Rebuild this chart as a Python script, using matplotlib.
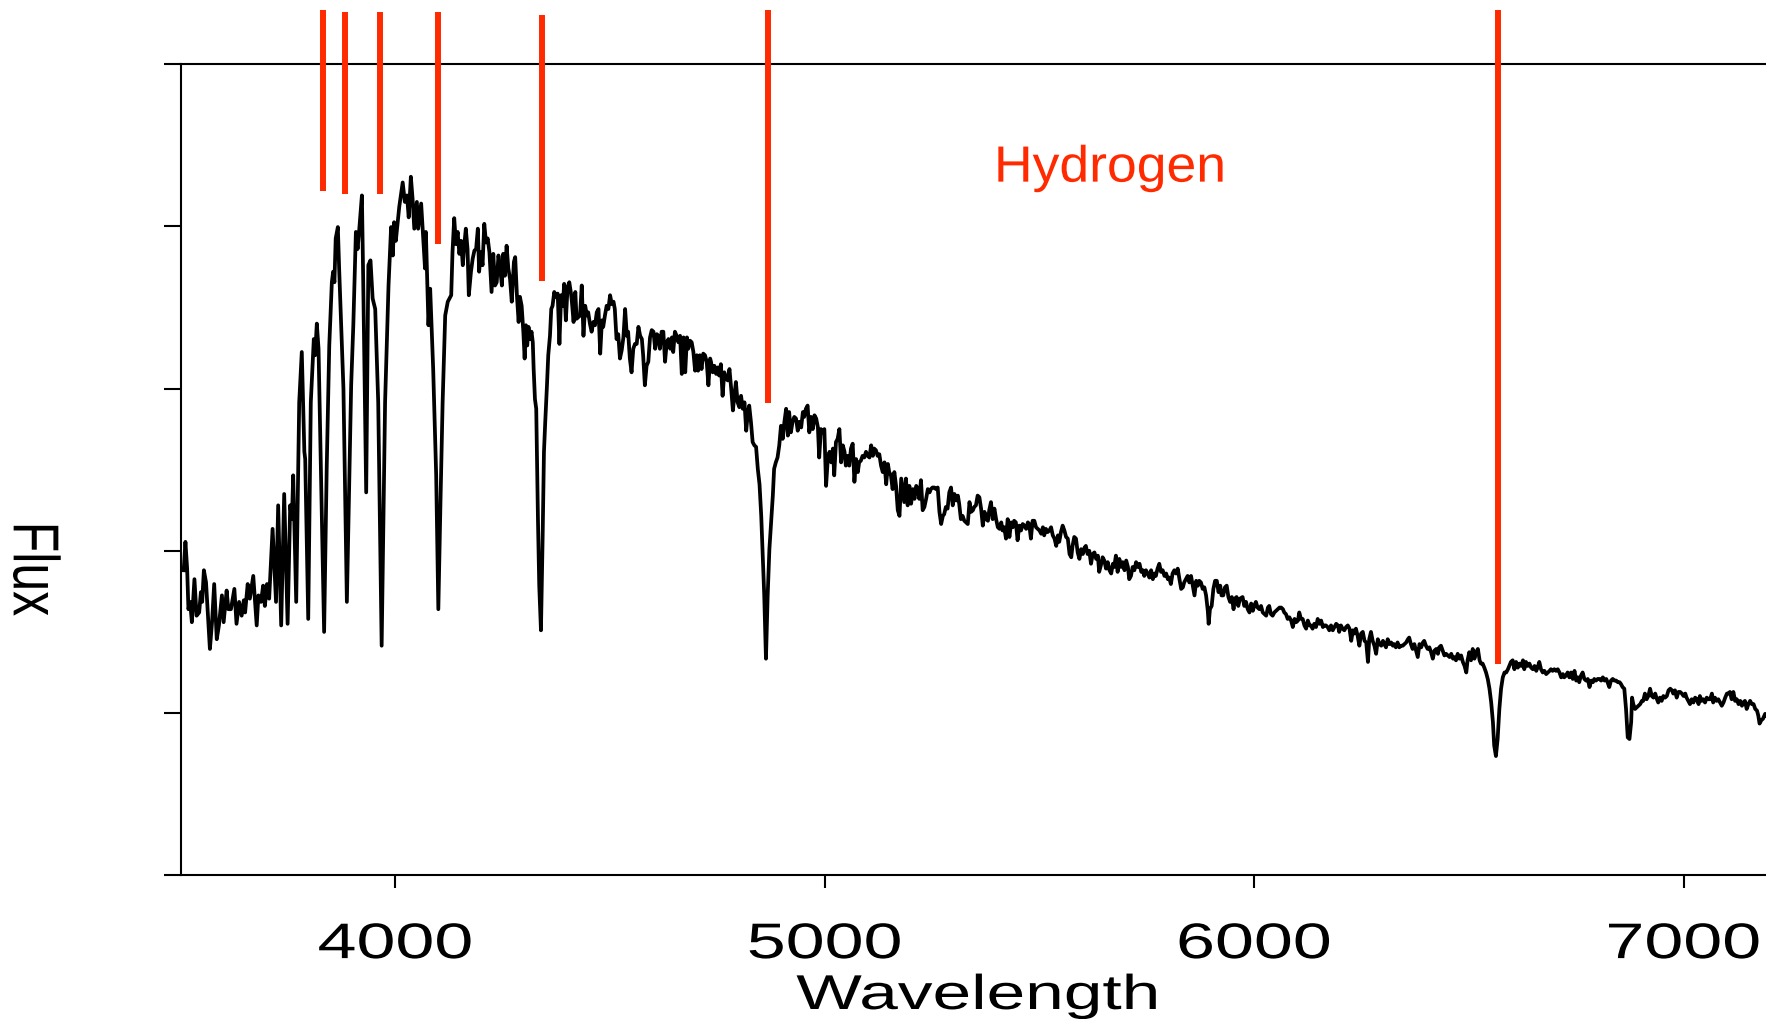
import numpy as np
import matplotlib
matplotlib.use("Agg")
import matplotlib.pyplot as plt
from matplotlib.patheffects import AbstractPathEffect
from matplotlib.transforms import Affine2D

# ---------------------------------------------------------------------------
# Stellar spectrum (wavelength in Angstrom, flux in arbitrary units)
# ---------------------------------------------------------------------------
wl_uv = [3507, 3511, 3515, 3518, 3522, 3526, 3532, 3537, 3543, 3547,
         3550, 3554, 3559, 3563, 3568, 3573, 3578, 3584, 3589, 3596,
         3600, 3607, 3611, 3617, 3625, 3630, 3636, 3642, 3647, 3650,
         3656, 3661, 3669, 3677, 3681, 3687, 3692, 3696, 3701, 3706,
         3714, 3722, 3727, 3734, 3741, 3749, 3755, 3759, 3762, 3769,
         3776, 3782, 3788, 3790, 3797, 3803, 3810, 3813, 3817, 3821,
         3828, 3834, 3840, 3846, 3852, 3855, 3858, 3861, 3866, 3869,
         3879, 3887, 3897, 3902, 3908, 3912, 3916, 3922, 3925, 3932,
         3937, 3942, 3947, 3953, 3960, 3968, 3976, 3984, 3990, 3994,
         3997, 4001, 4009, 4017, 4022, 4027, 4031, 4036, 4040, 4044,
         4050, 4053, 4060, 4064, 4069, 4071, 4077, 4081, 4088, 4095,
         4100, 4105, 4110, 4116]
fx_uv = [37.6, 41.1, 37.8, 32.8, 33.7, 31.2, 36.5, 32.0, 32.4, 34.9,
         33.7, 37.6, 36.1, 32.4, 27.9, 31.2, 35.9, 29.1, 30.8, 34.5,
         31.2, 35.1, 32.8, 32.8, 35.3, 31.0, 33.7, 32.0, 33.9, 32.4,
         35.9, 34.1, 36.9, 30.8, 34.5, 33.7, 35.7, 33.2, 35.9, 34.1,
         42.7, 33.7, 45.6, 30.8, 47.0, 31.0, 45.6, 43.9, 49.3, 33.7,
         58.3, 64.5, 52.2, 51.3, 31.6, 58.3, 66.1, 64.1, 68.0, 64.9,
         46.0, 30.0, 50.1, 65.3, 73.1, 74.4, 73.1, 78.5, 79.9, 74.8,
         60.0, 33.7, 60.4, 67.8, 79.3, 77.2, 79.7, 83.8, 73.5, 47.2,
         75.2, 75.8, 71.1, 69.8, 58.3, 28.3, 58.3, 72.7, 79.9, 76.4,
         80.5, 78.2, 82.4, 85.4, 83.0, 83.8, 81.1, 86.1, 83.4, 79.7,
         83.0, 79.7, 82.8, 79.3, 74.8, 79.3, 67.8, 72.3, 62.4, 49.3,
         32.8, 46.0, 58.3, 69.0]

wl_blue = [4122, 4126, 4130, 4133, 4137, 4141, 4145, 4149, 4153, 4157,
           4161, 4164, 4168, 4171, 4176, 4180, 4184, 4188, 4192, 4195,
           4199, 4203, 4207, 4211, 4215, 4219, 4224, 4228, 4232, 4236,
           4240, 4244, 4248, 4251, 4255, 4259, 4263, 4267, 4271, 4276,
           4279, 4283, 4287, 4290, 4294, 4298, 4301, 4304, 4307, 4310,
           4314, 4317, 4320, 4322, 4325, 4328, 4332, 4335, 4339, 4343,
           4346, 4349, 4353, 4356, 4360, 4363, 4366, 4370, 4374, 4378,
           4382, 4386, 4390, 4393, 4397, 4401, 4405, 4409, 4411, 4415,
           4419, 4422, 4426, 4430, 4434, 4438, 4442, 4446, 4449, 4453,
           4457, 4461, 4465, 4469, 4473, 4477, 4481, 4484, 4488, 4492,
           4496, 4500, 4504, 4508, 4511, 4515, 4519, 4523, 4527, 4531,
           4535, 4539, 4542, 4546, 4550, 4554, 4558, 4562, 4566, 4570,
           4574, 4577, 4581, 4585, 4589, 4593, 4597, 4601, 4605, 4609,
           4612, 4616, 4620, 4624, 4628, 4632, 4636, 4640, 4644, 4647,
           4651, 4655, 4659, 4663, 4667, 4671, 4675, 4679, 4682, 4686,
           4690, 4694, 4698, 4702, 4705, 4709, 4713, 4717, 4721, 4725,
           4729, 4733]
fx_blue = [70.7, 71.1, 71.5, 76.8, 81.0, 77.8, 79.3, 76.6, 78.2, 75.2,
           78.0, 79.7, 77.2, 71.5, 74.4, 76.0, 77.0, 77.2, 79.7, 74.4,
           76.8, 75.2, 80.3, 78.0, 78.5, 76.8, 71.9, 76.6, 72.7, 73.1,
           76.4, 74.8, 72.7, 76.6, 73.9, 77.6, 74.8, 73.5, 70.7, 75.6,
           76.2, 71.5, 68.2, 71.3, 70.2, 67.0, 63.7, 67.8, 65.3, 67.6,
           66.1, 67.0, 65.7, 62.4, 58.7, 57.5, 43.9, 35.7, 30.2, 41.9,
           52.2, 55.9, 60.4, 64.1, 66.5, 69.8, 70.2, 71.9, 71.3, 71.7,
           65.5, 71.5, 70.2, 72.9, 68.4, 72.5, 73.1, 71.7, 70.7, 68.2,
           71.9, 68.6, 68.8, 69.0, 72.7, 66.5, 70.2, 69.0, 69.4, 68.0,
           67.0, 68.2, 67.8, 69.4, 69.8, 64.3, 68.4, 67.6, 69.0, 70.2,
           69.8, 71.5, 70.4, 70.7, 69.8, 66.1, 66.7, 63.7, 64.7, 66.3,
           69.8, 66.5, 67.0, 63.7, 62.0, 64.9, 65.5, 65.5, 67.6, 66.5,
           66.1, 64.1, 60.4, 62.8, 63.3, 66.3, 67.2, 67.0, 64.9, 66.7,
           66.5, 64.9, 67.0, 67.0, 63.3, 65.7, 66.1, 64.9, 66.3, 64.5,
           67.0, 66.5, 65.7, 66.5, 61.8, 66.3, 62.0, 66.3, 64.9, 65.9,
           65.7, 64.5, 62.2, 64.1, 62.2, 64.1, 62.4, 64.3, 64.1, 63.3,
           60.4, 63.7]

wl_green = [4735, 4739, 4743, 4747, 4751, 4754, 4758, 4762, 4766, 4770,
            4774, 4778, 4782, 4786, 4789, 4793, 4797, 4801, 4805, 4809,
            4813, 4817, 4821, 4824, 4828, 4832, 4836, 4840, 4844, 4848,
            4852, 4855, 4859, 4863, 4867, 4871, 4875, 4879, 4882, 4886,
            4890, 4894, 4898, 4902, 4906, 4910, 4914, 4917, 4921, 4925,
            4929, 4933, 4937, 4941, 4945, 4949, 4952, 4956, 4960, 4964,
            4968, 4972, 4976, 4980, 4984, 4987, 4991, 4995, 4999, 5003,
            5007, 5011, 5015, 5019, 5022, 5026, 5030, 5034, 5038, 5042,
            5046, 5049, 5053, 5057, 5061, 5065, 5069, 5073, 5077, 5080,
            5084, 5088, 5092, 5096, 5100, 5104, 5108, 5112, 5115, 5119,
            5123, 5127, 5131, 5135, 5139, 5143, 5147, 5150, 5154, 5158,
            5162, 5166, 5170, 5174, 5178, 5182, 5185, 5189, 5193, 5197,
            5201, 5205, 5209, 5213, 5217, 5220, 5224, 5228, 5232, 5236,
            5240, 5244, 5247, 5251, 5255, 5259, 5263, 5267, 5271, 5275,
            5278, 5282, 5286, 5290, 5294, 5298, 5302, 5306, 5310, 5313,
            5317, 5321, 5325, 5329, 5333, 5337, 5341, 5345, 5348]
fx_green = [63.3, 62.0, 62.8, 61.8, 62.6, 61.6, 63.0, 59.1, 62.0, 61.2,
            61.0, 62.4, 60.0, 57.3, 58.9, 60.8, 58.3, 57.7, 59.1, 57.5,
            58.3, 54.8, 57.1, 57.9, 55.9, 53.4, 53.0, 52.8, 50.1, 48.2,
            44.3, 40.2, 34.5, 26.7, 34.5, 40.2, 43.5, 46.8, 50.1, 50.9,
            51.5, 53.0, 55.4, 53.8, 55.9, 57.5, 54.2, 57.1, 54.6, 55.9,
            56.5, 56.3, 54.8, 55.9, 55.2, 57.1, 56.5, 57.5, 57.9, 54.6,
            56.5, 55.0, 56.7, 56.3, 55.2, 51.5, 55.0, 54.6, 55.0, 48.0,
            51.3, 52.2, 50.9, 52.6, 49.3, 53.4, 53.8, 55.0, 50.9, 53.0,
            52.2, 50.5, 51.7, 50.5, 52.6, 53.2, 48.5, 51.3, 49.7, 50.9,
            51.1, 51.7, 51.5, 52.2, 51.7, 51.5, 53.0, 51.7, 52.6, 52.4,
            51.7, 51.9, 50.5, 49.7, 50.9, 48.2, 50.7, 49.7, 49.3, 47.6,
            49.7, 48.0, 45.0, 44.3, 48.9, 47.2, 46.0, 48.9, 45.6, 48.0,
            45.8, 47.6, 46.4, 48.0, 47.6, 46.4, 48.7, 45.0, 45.4, 46.4,
            47.6, 47.2, 47.6, 47.8, 47.8, 47.6, 47.8, 44.8, 43.3, 44.3,
            44.5, 45.4, 45.2, 47.2, 47.8, 45.6, 47.0, 46.2, 46.8, 45.8,
            43.9, 44.3, 43.7, 43.5, 43.3, 46.0, 44.8, 45.0, 45.4]

wl_yellow = [5352, 5356, 5360, 5364, 5368, 5372, 5376, 5380, 5383, 5387,
             5391, 5395, 5399, 5403, 5407, 5411, 5414, 5418, 5422, 5426,
             5430, 5434, 5438, 5441, 5445, 5449, 5453, 5457, 5461, 5465,
             5469, 5473, 5476, 5480, 5484, 5488, 5492, 5496, 5500, 5504,
             5508, 5511, 5515, 5519, 5523, 5527, 5531, 5535, 5539, 5543,
             5546, 5550, 5554, 5558, 5562, 5566, 5570, 5574, 5577, 5581,
             5585, 5589, 5593, 5597, 5601, 5605, 5608, 5612, 5616, 5620,
             5624, 5628, 5632, 5636, 5639, 5643, 5647, 5651, 5655, 5659,
             5663, 5667, 5671, 5674, 5678, 5682, 5686, 5690, 5694, 5698,
             5702, 5706, 5709, 5713, 5717, 5721, 5725, 5729, 5733, 5737,
             5741, 5744, 5748, 5752, 5756, 5760, 5764, 5768, 5771, 5775,
             5779, 5783, 5787, 5791, 5795, 5799, 5802, 5806, 5810, 5814,
             5818, 5822, 5826, 5830, 5834, 5837, 5841, 5845, 5849, 5853,
             5857, 5861, 5865, 5869, 5872, 5876, 5880, 5884, 5888, 5892,
             5894, 5897, 5901, 5905, 5909, 5913, 5917, 5921, 5924, 5928,
             5932, 5936, 5940, 5944, 5948, 5952, 5955, 5959, 5963, 5967]
fx_yellow = [45.6, 46.8, 46.6, 45.2, 43.1, 44.8, 43.9, 43.7, 45.0, 46.0,
             43.9, 45.2, 43.9, 42.9, 42.7, 43.5, 42.5, 42.9, 41.5, 43.9,
             41.7, 43.5, 42.9, 43.7, 43.5, 41.3, 43.1, 42.5, 43.3, 43.1,
             42.7, 43.5, 43.3, 41.5, 43.7, 43.7, 42.9, 42.7, 42.5, 42.1,
             42.9, 41.9, 42.7, 42.3, 42.5, 42.9, 41.9, 41.5, 40.6, 41.9,
             41.1, 42.3, 43.1, 42.5, 41.7, 41.5, 39.6, 39.2, 40.6, 41.7,
             41.5, 39.8, 39.0, 40.2, 39.6, 40.4, 40.6, 39.6, 40.0, 38.4,
             39.6, 39.8, 39.0, 39.4, 37.4, 38.2, 39.2, 38.8, 37.8, 38.6,
             37.6, 37.2, 38.4, 38.0, 39.4, 37.4, 39.0, 38.0, 38.6, 37.6,
             38.8, 38.0, 36.5, 36.9, 38.0, 37.6, 38.6, 38.0, 38.4, 37.4,
             37.6, 36.9, 37.6, 37.2, 36.7, 37.6, 36.5, 37.2, 36.9, 37.8,
             38.4, 37.4, 37.6, 36.9, 37.2, 36.5, 36.7, 35.9, 37.2, 37.6,
             37.2, 37.8, 36.5, 35.3, 35.5, 36.1, 36.5, 36.9, 36.1, 36.9,
             35.7, 34.5, 36.3, 35.7, 36.3, 36.1, 35.3, 35.5, 34.5, 32.6,
             31.0, 32.8, 33.2, 35.3, 36.3, 36.3, 34.9, 35.7, 34.5, 34.5,
             35.5, 35.7, 34.3, 33.7, 34.3, 32.8, 34.1, 34.3, 33.2, 34.1]

wl_orange = [5973, 5977, 5981, 5985, 5989, 5993, 5997, 6000, 6004, 6008,
             6012, 6016, 6020, 6024, 6028, 6032, 6035, 6039, 6043, 6047,
             6051, 6055, 6059, 6063, 6067, 6070, 6074, 6078, 6082, 6086,
             6090, 6094, 6098, 6102, 6105, 6109, 6113, 6117, 6121, 6125,
             6129, 6132, 6136, 6140, 6144, 6148, 6152, 6156, 6160, 6163,
             6167, 6171, 6175, 6179, 6183, 6187, 6191, 6195, 6198, 6202,
             6206, 6210, 6214, 6218, 6222, 6226, 6230, 6233, 6237, 6241,
             6245, 6249, 6253, 6257, 6261, 6265, 6268, 6272, 6276, 6280,
             6284, 6288, 6292, 6296, 6300, 6303, 6307, 6311, 6315, 6319,
             6323, 6326, 6330, 6334, 6338, 6342, 6346, 6350, 6354, 6358,
             6361, 6365, 6369, 6373, 6377, 6381, 6385, 6389, 6393, 6396,
             6400, 6404, 6408, 6412, 6416, 6420, 6424, 6428, 6431, 6435,
             6439, 6443, 6447, 6451, 6455, 6459, 6463, 6466, 6470, 6474,
             6478, 6482, 6486, 6490, 6494, 6497, 6501, 6505, 6509, 6513,
             6517, 6521, 6525, 6528, 6532, 6536, 6540, 6544, 6548, 6552,
             6556, 6559, 6563, 6567, 6571, 6575, 6579, 6583]
fx_orange = [34.3, 33.2, 33.7, 32.8, 32.4, 33.5, 32.6, 33.2, 33.7, 33.0,
             32.8, 33.2, 32.4, 32.2, 32.0, 33.0, 33.2, 32.2, 32.0, 32.4,
             32.6, 32.8, 33.0, 33.0, 32.8, 32.4, 32.2, 31.6, 31.8, 31.4,
             30.6, 31.6, 31.2, 31.4, 32.4, 31.6, 31.6, 30.8, 30.4, 31.4,
             30.8, 30.8, 30.4, 31.0, 30.6, 31.6, 31.0, 31.4, 30.6, 30.8,
             30.8, 30.6, 30.2, 30.8, 30.2, 30.6, 31.0, 30.8, 30.0, 30.8,
             30.4, 30.2, 30.6, 30.8, 30.4, 28.9, 30.2, 29.8, 30.4, 29.5,
             28.3, 29.8, 30.0, 28.9, 28.7, 26.3, 29.1, 30.0, 28.9, 28.3,
             27.3, 29.1, 28.5, 28.3, 28.9, 28.5, 28.1, 29.1, 28.5, 28.7,
             28.3, 28.5, 28.1, 28.7, 28.1, 28.3, 28.3, 28.5, 28.7, 29.1,
             29.3, 28.5, 27.9, 28.5, 27.7, 26.9, 28.5, 28.1, 28.7, 28.9,
             28.3, 27.9, 28.1, 27.5, 26.7, 27.7, 27.9, 27.3, 28.1, 28.3,
             27.7, 27.1, 27.3, 27.1, 26.9, 27.3, 26.7, 26.9, 26.5, 27.3,
             26.7, 27.1, 26.3, 25.8, 25.0, 26.5, 27.5, 26.5, 27.9, 26.7,
             27.5, 27.9, 26.5, 26.1, 26.1, 25.6, 25.0, 24.2, 23.0, 21.3,
             18.9, 16.0, 14.7, 16.8, 20.5, 23.0, 24.4, 25.0]

wl_red = [6587, 6591, 6594, 6598, 6602, 6606, 6610, 6614, 6618, 6622,
          6626, 6629, 6633, 6637, 6641, 6645, 6649, 6653, 6657, 6660,
          6664, 6668, 6672, 6676, 6680, 6684, 6688, 6691, 6695, 6699,
          6703, 6707, 6711, 6715, 6719, 6722, 6726, 6730, 6734, 6738,
          6742, 6746, 6750, 6754, 6757, 6761, 6765, 6769, 6773, 6777,
          6781, 6785, 6789, 6792, 6796, 6800, 6804, 6808, 6812, 6816,
          6820, 6823, 6827, 6831, 6835, 6839, 6843, 6847, 6851, 6854,
          6858, 6862, 6866, 6870, 6874, 6878, 6880, 6883, 6887, 6891,
          6895, 6899, 6903, 6906, 6910, 6914, 6918, 6922, 6926, 6930,
          6934, 6938, 6941, 6945, 6949, 6953, 6957, 6961, 6965, 6969,
          6973, 6976, 6980, 6984, 6988, 6992, 6996, 7000, 7004, 7007,
          7011, 7015, 7019, 7023, 7027, 7031, 7035, 7038, 7042, 7046,
          7050, 7054, 7058, 7062, 7066, 7069, 7073, 7077, 7081, 7085,
          7089, 7093, 7097, 7101, 7104, 7108, 7112, 7116, 7120, 7124,
          7128, 7132, 7136, 7139, 7143, 7147, 7151, 7155, 7159, 7163,
          7167, 7171, 7174, 7177, 7181, 7185, 7190, 7192]
fx_red = [25.0, 25.4, 25.8, 26.3, 26.5, 25.4, 26.3, 25.6, 26.1, 25.8,
          26.5, 25.4, 26.3, 25.8, 26.1, 25.6, 25.4, 25.8, 25.2, 25.6,
          26.3, 25.4, 25.0, 25.2, 24.8, 25.0, 25.2, 25.4, 25.2, 25.4,
          25.2, 25.4, 25.0, 24.4, 24.8, 24.4, 24.6, 25.0, 24.4, 25.0,
          24.2, 25.2, 24.0, 24.4, 23.8, 24.6, 25.0, 24.2, 24.0, 24.2,
          23.2, 24.0, 23.8, 24.2, 24.0, 24.2, 24.2, 24.0, 24.4, 24.0,
          24.2, 23.8, 23.2, 24.0, 24.2, 24.0, 24.0, 23.8, 23.8, 23.6,
          23.2, 23.0, 20.5, 17.0, 16.8, 18.9, 21.9, 21.1, 20.5, 20.7,
          20.9, 21.1, 21.5, 21.5, 22.4, 21.7, 22.1, 23.0, 22.1, 21.9,
          22.4, 21.7, 21.3, 21.9, 21.5, 22.1, 21.9, 22.1, 22.8, 23.0,
          22.8, 22.4, 22.8, 21.9, 22.6, 22.6, 22.4, 22.1, 22.4, 21.9,
          21.5, 21.1, 21.7, 21.3, 21.9, 21.7, 21.1, 22.1, 21.5, 21.7,
          21.3, 21.9, 21.7, 21.7, 22.4, 21.3, 21.9, 21.5, 21.7, 21.3,
          20.9, 21.3, 21.9, 22.4, 22.4, 22.6, 21.7, 22.6, 21.5, 21.7,
          21.1, 21.5, 20.9, 21.3, 21.5, 20.5, 21.1, 21.5, 21.1, 21.1,
          20.5, 20.3, 19.7, 18.7, 19.1, 19.3, 19.9, 19.7]

# Balmer line markers: position, lower end, upper end
balmer_wl = [3832, 3883, 3965, 4100, 4341, 4868, 6569]
marker_bottom = [84.3, 84.0, 84.0, 77.8, 73.3, 58.2, 26.1]
marker_top = [106.6, 106.4, 106.4, 106.4, 106.0, 106.6, 106.7]

x_ticks = [4000, 5000, 6000, 7000]
x_tick_labels = ["4000", "5000", "6000", "7000"]
y_ticks = [0, 20, 40, 60, 80, 100]

RED = "#ff2a00"
FONT = "Liberation Sans"


class HorizontalStretch(AbstractPathEffect):
    """Widen glyphs horizontally about their own centre (extended lettering)."""

    def __init__(self, factor):
        super().__init__(offset=(0, 0))
        self._factor = factor

    def draw_path(self, renderer, gc, tpath, affine, rgbFace=None):
        box = tpath.get_extents(affine)
        cx = 0.5 * (box.x0 + box.x1)
        widen = Affine2D().translate(-cx, 0).scale(self._factor, 1.0).translate(cx, 0)
        renderer.draw_path(gc, tpath, affine + widen, rgbFace)


wavelength = np.concatenate([wl_uv, wl_blue, wl_green, wl_yellow, wl_orange, wl_red])
flux = np.concatenate([fx_uv, fx_blue, fx_green, fx_yellow, fx_orange, fx_red])

fig = plt.figure(figsize=(17.66, 10.20), dpi=100)
ax = fig.add_axes([0.10232, 0.14088, 0.89768, 0.79539])

ax.plot(wavelength, flux, color="black", linewidth=2.7)

ax.set_xlim(3500, 7192)
ax.set_ylim(0, 100)

ax.set_xticks(x_ticks)
ax.set_xticklabels(x_tick_labels, family=FONT)
ax.set_yticks(y_ticks)
ax.set_yticklabels([])
ax.tick_params(axis="x", direction="out", length=9, width=1.5, pad=24.7,
               labelsize=36, colors="black")
ax.tick_params(axis="y", direction="out", length=12.5, width=1.5)

for side in ("left", "bottom", "top"):
    ax.spines[side].set_linewidth(1.5)
ax.spines["right"].set_visible(False)

# Hydrogen (Balmer series) markers, running above the frame
markers = ax.vlines(balmer_wl, marker_bottom, marker_top, colors=RED,
                    linewidth=4.3, zorder=3, clip_on=False)
markers.set_capstyle("butt")

hydrogen = ax.text(5664, 85.5, "Hydrogen", color=RED, fontsize=36.7,
                   family=FONT, ha="center", va="baseline")
hydrogen.set_path_effects([HorizontalStretch(1.05)])

ax.set_xlabel("Wavelength", fontsize=35.2, family=FONT, va="baseline")
ax.xaxis.set_label_coords(0.5027, -0.1648)

ax.set_ylabel("Flux", fontsize=36, family=FONT, rotation=270,
              va="baseline", ha="center")
ax.yaxis.set_label_coords(-0.1020, 0.3775)

# axis lettering is set wide
for lbl in ax.get_xticklabels():
    lbl.set_path_effects([HorizontalStretch(1.4)])
ax.xaxis.label.set_path_effects([HorizontalStretch(1.42)])
ax.yaxis.label.set_path_effects([HorizontalStretch(1.3)])

fig.savefig("out.png", dpi=100)
